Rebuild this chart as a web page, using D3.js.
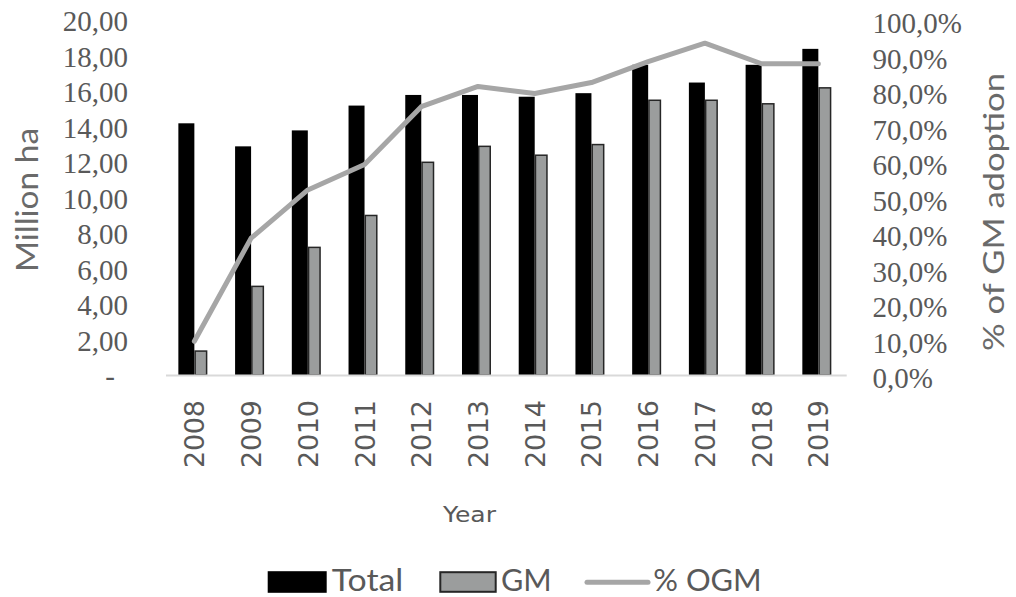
<!DOCTYPE html>
<html>
<head>
<meta charset="utf-8">
<script src="https://cdn.jsdelivr.net/npm/d3@7"></script>
<style>
  html, body { margin: 0; padding: 0; background: #fff; }
  svg { display: block; }
</style>
</head>
<body>
<svg id="chart" width="1016" height="597"></svg>
<script>
// Planted area (million ha) and share of GM adoption by year
const years = ["2008","2009","2010","2011","2012","2013","2014","2015","2016","2017","2018","2019"];
const totalArea = [14.2, 12.9, 13.8, 15.2, 15.8, 15.8, 15.7, 15.9, 17.5, 16.5, 17.5, 18.4];
const gmArea    = [1.35, 5.0, 7.2, 9.0, 12.0, 12.9, 12.4, 13.0, 15.5, 15.5, 15.3, 16.2];
const pctOGM    = [9.5, 38.6, 52.2, 59.4, 75.7, 81.4, 79.4, 82.5, 88.4, 93.6, 87.8, 87.8];
const leftTicks  = [0, 2, 4, 6, 8, 10, 12, 14, 16, 18, 20];
const rightTicks = [0, 10, 20, 30, 40, 50, 60, 70, 80, 90, 100];

const svg = d3.select("#chart");
const labelGrey = "#595959";

const x = d3.scaleBand().domain(years).range([166, 846.7]);
const yLeft = d3.scaleLinear().domain([0, 20]).range([375, 20.5]);
const yRight = d3.scaleLinear().domain([0, 100]).range([375, 20.5]);

const fmtLeft = d => d === 0 ? "-" : d3.format(".2f")(d).replace(".", ",");
const fmtRight = d => d3.format(".1f")(d).replace(".", ",") + "%";

// Left axis labels (no axis line)
const leftAxis = d3.axisLeft(yLeft).tickValues(leftTicks).tickFormat(fmtLeft).tickSize(0).tickPadding(0);
const gL = svg.append("g").attr("transform", "translate(128,0)").call(leftAxis);
gL.select(".domain").remove();
gL.selectAll("text")
  .attr("font-family", "'Liberation Serif', serif")
  .attr("font-size", 29)
  .attr("fill", labelGrey)
  .attr("dy", "0.36em")
  .attr("dx", d => d === 0 ? -13 : 0);

// Right axis labels
const rightAxis = d3.axisRight(yRight).tickValues(rightTicks).tickFormat(fmtRight).tickSize(0).tickPadding(0);
const gR = svg.append("g").attr("transform", "translate(872.5,2)").call(rightAxis);
gR.select(".domain").remove();
gR.selectAll("text")
  .attr("font-family", "'Liberation Serif', serif")
  .attr("font-size", 29)
  .attr("fill", labelGrey)
  .attr("dy", "0.36em");

// Bars
const blackW = 16, gmW = 13;
const cx = d => x(d) + x.bandwidth() / 2;

svg.append("g").selectAll("rect")
  .data(years.map((yr, i) => ({ yr, v: totalArea[i] })))
  .join("rect")
  .attr("x", d => cx(d.yr) - blackW)
  .attr("y", d => yLeft(d.v))
  .attr("width", blackW)
  .attr("height", d => yLeft(0) - yLeft(d.v))
  .attr("fill", "#000");

svg.append("g").selectAll("rect")
  .data(years.map((yr, i) => ({ yr, v: gmArea[i] })))
  .join("rect")
  .attr("x", d => cx(d.yr) + 0.75)
  .attr("y", d => yLeft(d.v))
  .attr("width", gmW - 1.5)
  .attr("height", d => yLeft(0) - yLeft(d.v))
  .attr("fill", "#9b9d9d")
  .attr("stroke", "#262626")
  .attr("stroke-width", 1.5);

// Category baseline
svg.append("line")
  .attr("x1", x.range()[0]).attr("x2", x.range()[1])
  .attr("y1", 375.5).attr("y2", 375.5)
  .attr("stroke", "#d9d9d9").attr("stroke-width", 2);

// % OGM line
const line = d3.line()
  .x((d, i) => cx(years[i]))
  .y(d => yRight(d));
svg.append("path")
  .datum(pctOGM)
  .attr("d", line)
  .attr("fill", "none")
  .attr("stroke", "#a6a6a6")
  .attr("stroke-width", 5)
  .attr("stroke-linejoin", "round")
  .attr("stroke-linecap", "round");

// Year tick labels, rotated
svg.append("g").selectAll("text")
  .data(years)
  .join("text")
  .attr("transform", d => `translate(${cx(d) + 10},400) rotate(-90)`)
  .attr("text-anchor", "end")
  .attr("font-family", "'DejaVu Sans', sans-serif")
  .attr("font-size", 27)
  .attr("fill", labelGrey)
  .attr("textLength", 68)
  .attr("lengthAdjust", "spacing")
  .text(d => d);

// Axis titles
svg.append("text")
  .attr("x", 443).attr("y", 521.5)
  .attr("font-family", "'DejaVu Sans', sans-serif")
  .attr("font-size", 22)
  .attr("fill", labelGrey)
  .attr("textLength", 53)
  .attr("lengthAdjust", "spacingAndGlyphs")
  .text("Year");

svg.append("text")
  .attr("transform", "translate(38,200) rotate(-90)")
  .attr("text-anchor", "middle")
  .attr("font-family", "Lato, 'Open Sans', sans-serif")
  .attr("font-size", 30)
  .attr("fill", "#6a6a6a")
  .attr("textLength", 144)
  .attr("lengthAdjust", "spacingAndGlyphs")
  .text("Million ha");

svg.append("text")
  .attr("transform", "translate(1004,212) rotate(-90)")
  .attr("text-anchor", "middle")
  .attr("font-family", "Lato, 'Open Sans', sans-serif")
  .attr("font-size", 28)
  .attr("fill", "#6a6a6a")
  .attr("textLength", 278)
  .attr("lengthAdjust", "spacingAndGlyphs")
  .text("% of GM adoption");

// Legend
const legend = svg.append("g");
const legendFont = "Lato, 'Open Sans', sans-serif";
const legendSize = 30, legendBase = 591;
legend.append("rect")
  .attr("x", 267.7).attr("y", 571.2).attr("width", 59).attr("height", 21.6)
  .attr("fill", "#000");
legend.append("text")
  .attr("x", 331.7).attr("y", legendBase)
  .attr("font-family", legendFont).attr("font-size", legendSize).attr("fill", labelGrey)
  .attr("textLength", 71.6).attr("lengthAdjust", "spacingAndGlyphs")
  .text("Total");
legend.append("rect")
  .attr("x", 440.3).attr("y", 572.2).attr("width", 55.4).attr("height", 19.6)
  .attr("fill", "#9b9d9d").attr("stroke", "#262626").attr("stroke-width", 2);
legend.append("text")
  .attr("x", 501).attr("y", legendBase)
  .attr("font-family", legendFont).attr("font-size", legendSize).attr("fill", labelGrey)
  .attr("textLength", 50.7).attr("lengthAdjust", "spacingAndGlyphs")
  .text("GM");
legend.append("line")
  .attr("x1", 587).attr("x2", 648).attr("y1", 582.2).attr("y2", 582.2)
  .attr("stroke", "#a6a6a6").attr("stroke-width", 5).attr("stroke-linecap", "round");
legend.append("text")
  .attr("x", 653.3).attr("y", legendBase)
  .attr("font-family", legendFont).attr("font-size", legendSize).attr("fill", labelGrey)
  .attr("textLength", 108.4).attr("lengthAdjust", "spacingAndGlyphs")
  .text("% OGM");
</script>
</body>
</html>
